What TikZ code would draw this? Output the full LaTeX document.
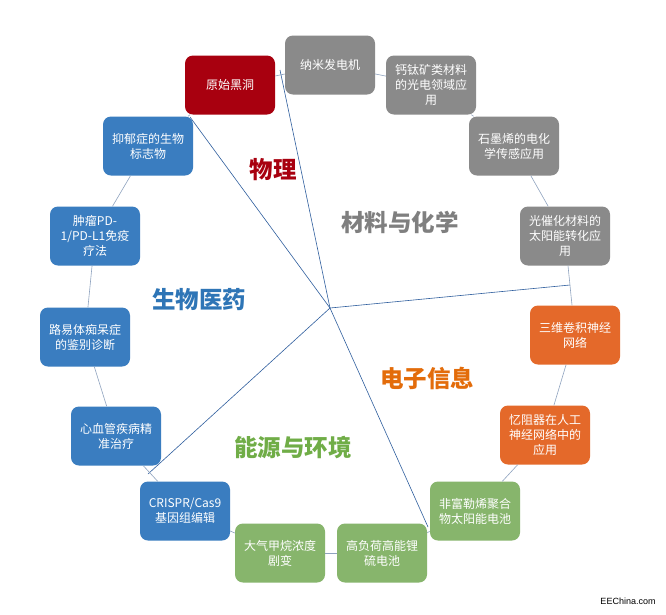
\documentclass[tikz,border=0pt]{standalone}
\usepackage{fontspec}
\setmainfont{Liberation Sans}
\newfontfamily\cjk{Noto Sans CJK SC}
\usetikzlibrary{arrows.meta}
\definecolor{cred}{HTML}{A8000F}
\definecolor{cgray}{HTML}{8A8A8A}
\definecolor{cblue}{HTML}{3A7DC0}
\definecolor{corange}{HTML}{E4692A}
\definecolor{cgreen}{HTML}{87B56C}
\definecolor{lgray}{HTML}{7F7F7F}
\definecolor{lblue}{HTML}{2E75B6}
\definecolor{lorange}{HTML}{E36C0A}
\definecolor{lgreen}{HTML}{70AD47}
\definecolor{spokeblue}{HTML}{2F5E9E}
\definecolor{ringcol}{HTML}{8FA3BF}
\begin{document}
\begin{tikzpicture}[x=1pt,y=-1pt,
  box/.style={rounded corners=8pt, minimum width=90pt, minimum height=59pt,
    text width=82pt, align=center, text=white, inner sep=0pt,
    font=\cjk\fontsize{12}{15}\selectfont},
  sect/.style={font=\cjk\bfseries\fontsize{23.5}{28}\selectfont},
  spoke/.style={draw=spokeblue, line width=0.6pt},
  ring/.style={draw=ringcol, line width=0.6pt}]
\useasboundingbox (0,0) rectangle (666,614);
\fill[white] (0,0) rectangle (666,614);
\coordinate (c) at (330,308);
\coordinate (e1) at (280,70);
\coordinate (e2) at (190,117);
\coordinate (e3) at (148,474);
\coordinate (e4) at (428,527);
\coordinate (e5) at (570,285);
% spokes
\foreach \e in {e1,e2,e3,e4,e5} \draw[spoke] (c) -- (\e);
% boxes
\node[box, fill=cred]    (n1)  at (230,85)  {原始黑洞};
\node[box, fill=cgray]   (n2)  at (330,65)  {纳米发电机};
\node[box, fill=cgray]   (n3)  at (431,85)  {钙钛矿类材料\\的光电领域应\\用};
\node[box, fill=cgray]   (n4)  at (514,146) {石墨烯的电化\\学传感应用};
\node[box, fill=cgray]   (n5)  at (565,236) {光催化材料的\\太阳能转化应\\用};
\node[box, fill=corange] (n6)  at (575,335) {三维卷积神经\\网络};
\node[box, fill=corange] (n7)  at (545,435) {忆阻器在人工\\神经网络中的\\应用};
\node[box, fill=cgreen]  (n8)  at (475,511) {非富勒烯聚合\\物太阳能电池};
\node[box, fill=cgreen]  (n9)  at (382,553) {高负荷高能锂\\硫电池};
\node[box, fill=cgreen]  (n10) at (280,553) {大气甲烷浓度\\剧变};
\node[box, fill=cblue]   (n11) at (185,511) {CRISPR/Cas9\\基因组编辑};
\node[box, fill=cblue]   (n12) at (116,436) {心血管疾病精\\准治疗};
\node[box, fill=cblue]   (n13) at (85,337)  {路易体痴呆症\\的鉴别诊断};
\node[box, fill=cblue]   (n14) at (95,236)  {肿瘤PD-\\1/PD-L1免疫\\疗法};
\node[box, fill=cblue]   (n15) at (148,146) {抑郁症的生物\\标志物};
% ring connectors
\foreach \a/\b in {n1/n2,n2/n3,n3/n4,n4/n5,n5/n6,n6/n7,n7/n8,n8/n9,n9/n10,n10/n11,n11/n12,n12/n13,n13/n14,n14/n15,n15/n1}
  \draw[ring] (\a) -- (\b);
% sector labels
\node[sect, text=cred]    (s1) at (273,170) {物理};
\node[sect, text=lgray]   (s2) at (400,222) {材料与化学};
\node[sect, text=lblue]   (s3) at (199,300) {生物医药};
\node[sect, text=lorange] (s4) at (427,378) {电子信息};
\node[sect, text=lgreen]  (s5) at (293,447) {能源与环境};
% watermark
\node[font=\fontsize{9}{10}\selectfont, text=black] (wm) at (628,601) {EEChina.com};
\end{tikzpicture}
\end{document}
